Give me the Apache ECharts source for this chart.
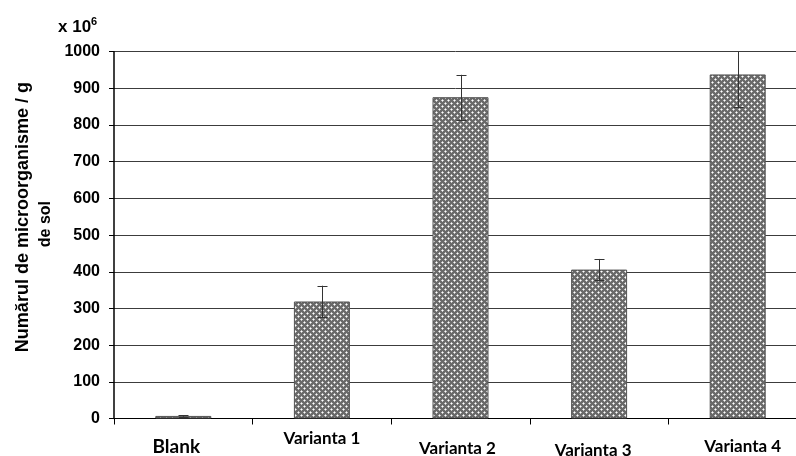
<!DOCTYPE html>
<html>
<head>
<meta charset="utf-8">
<script src="https://cdn.jsdelivr.net/npm/echarts@6/dist/echarts.min.js"></script>
<style>html,body{margin:0;padding:0;background:#fff}#c{width:796px;height:456px}</style>
</head>
<body>
<div id="c"></div>
<script>
var categories = ['Blank', 'Varianta 1', 'Varianta 2', 'Varianta 3', 'Varianta 4'];
var values = [7, 319, 876, 406, 938];
var errors = [2, 43, 61, 29, 90];
var yTicks = [0, 100, 200, 300, 400, 500, 600, 700, 800, 900, 1000];

// crosshatch pattern tile
var tile = document.createElement('canvas');
tile.width = 6; tile.height = 6;
var tc = tile.getContext('2d');
tc.fillStyle = '#6a6a6a'; tc.fillRect(0, 0, 6, 6);
tc.fillStyle = '#c4c4c4';
tc.fillRect(0, 1, 3, 1); tc.fillRect(1, 0, 1, 3);
tc.fillRect(3, 4, 3, 1); tc.fillRect(4, 3, 1, 3);
tc.fillStyle = '#ffffff';
tc.fillRect(1, 1, 1, 1); tc.fillRect(4, 4, 1, 1);

var lf = {fontFamily: 'Lato', fontWeight: 'bold', color: '#000'};
function rs(size, pad) { return Object.assign({fontSize: size, padding: pad}, lf); }
var labelRich = {
  b0: rs(19, [7, 14, 0, 0]),
  b1: rs(17, [0, 0, 0, 0]),
  b2: rs(17, [10, 6, 0, 0]),
  b3: rs(17, [12, 12, 0, 0]),
  b4: rs(17, [8, 0, 0, 10])
};

var chart = echarts.init(document.getElementById('c'), null, {renderer: 'canvas'});
chart.setOption({
  animation: false,
  backgroundColor: '#fff',
  title: {
    text: '{a|x 10}{s|6}',
    left: 53, top: 11,
    textStyle: {
      rich: {
        a: {fontFamily: 'Liberation Sans', fontWeight: 'bold', fontSize: 17, color: '#000', lineHeight: 20, verticalAlign: 'bottom'},
        s: {fontFamily: 'Liberation Sans', fontWeight: 'bold', fontSize: 11, color: '#000', verticalAlign: 'top', lineHeight: 20}
      }
    }
  },
  grid: {left: 114, top: 51.7, height: 366.8, width: 693, containLabel: false, outerBoundsMode: 'none'},
  xAxis: {
    type: 'category',
    data: categories,
    boundaryGap: true,
    axisLine: {show: true, lineStyle: {color: '#000', width: 1}},
    axisTick: {show: true, length: 6, alignWithLabel: false, lineStyle: {color: '#000'}},
    axisLabel: {
      interval: 0, margin: 12,
      formatter: function (v, i) { return '{b' + i + '|' + v + '}'; },
      rich: labelRich
    },
    splitLine: {show: false}
  },
  yAxis: {
    type: 'value',
    min: yTicks[0], max: yTicks[yTicks.length - 1], interval: 100,
    name: '{l1|Numărul de microorganisme / g}\n{l2|de sol}',
    nameLocation: 'middle',
    nameRotate: 90,
    nameGap: 53,
    nameTextStyle: {
      padding: [0, 0, 0, 36],
      fontFamily: 'Liberation Sans', fontWeight: 'bold', fontSize: 16, color: '#000',
      rich: {
        l1: {fontFamily: 'Liberation Sans', fontWeight: 'bold', fontSize: 18, lineHeight: 22, color: '#000'},
        l2: {fontFamily: 'Liberation Sans', fontWeight: 'bold', fontSize: 16, lineHeight: 22, color: '#000', padding: [0, 14, 0, 0]}
      }
    },
    axisLine: {show: true, lineStyle: {color: '#000', width: 1.5}},
    axisTick: {show: true, inside: false, length: 5, lineStyle: {color: '#000'}},
    axisLabel: {fontFamily: 'Liberation Sans', fontWeight: 'bold', fontSize: 16, color: '#000', margin: 14,
      formatter: function (v) { return String(v); }},
    splitLine: {show: true, lineStyle: {color: '#3c3c3c', width: 1}}
  },
  series: [
    {
      type: 'bar',
      data: values,
      barWidth: 56,
      itemStyle: {color: {image: tile, repeat: 'repeat'}, borderColor: '#555', borderWidth: 1},
      z: 2
    },
    {
      type: 'custom',
      clip: true,
      z: 3,
      data: values.map(function (v, i) { return [i, v - errors[i], v + errors[i]]; }),
      renderItem: function (params, api) {
        var lo = api.coord([api.value(0), api.value(1)]);
        var hi = api.coord([api.value(0), api.value(2)]);
        var x = Math.round(lo[0]) + 0.5;
        var w = 5;
        var style = {stroke: '#333', lineWidth: 1, fill: null};
        return {
          type: 'group',
          children: [
            {type: 'line', shape: {x1: x, y1: hi[1], x2: x, y2: lo[1]}, style: style},
            {type: 'line', shape: {x1: x - w, y1: Math.round(hi[1]) + 0.5, x2: x + w, y2: Math.round(hi[1]) + 0.5}, style: style},
            {type: 'line', shape: {x1: x - w, y1: Math.round(lo[1]) + 0.5, x2: x + w, y2: Math.round(lo[1]) + 0.5}, style: style}
          ]
        };
      }
    }
  ]
});
</script>
</body>
</html>
